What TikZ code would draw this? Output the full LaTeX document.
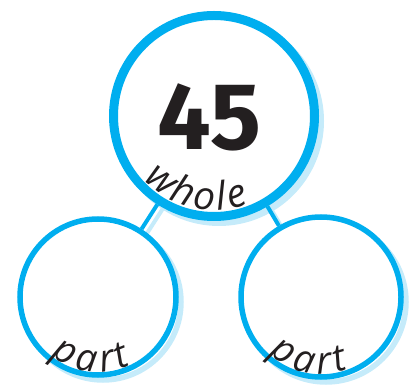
\documentclass[tikz,border=0pt]{standalone}
\usepackage{fontspec}
\setmainfont{Open Sans}
\newfontfamily\numfont{Fira Sans}
\usetikzlibrary{decorations.text}
\definecolor{ringblue}{HTML}{00AEEF}
\definecolor{shadowblue}{HTML}{C5EBFA}
\definecolor{inkdark}{HTML}{231F20}
\tikzset{
  bigring/.style={circle, draw=ringblue, fill=white, line width=9pt, minimum size=201pt, inner sep=0pt},
  smallring/.style={circle, draw=ringblue, fill=white, line width=5.5pt, inner sep=0pt},
  connector/.style={draw=ringblue, line width=4pt},
  arctext/.style={decorate, decoration={text along path, text align=center, text color=inkdark, text={#1}}}
}
\begin{document}
\begin{tikzpicture}[x=1pt,y=1pt]
\useasboundingbox (0,0) rectangle (419,387);
\coordinate (W) at (214,271);
\coordinate (L) at (98,90);
\coordinate (R) at (321,90);
% shadows
\draw[shadowblue, line width=4pt] ([shift={(5,-5)}]W) -- ([shift={(5,-5)}]L);
\draw[shadowblue, line width=4pt] ([shift={(5,-5)}]W) -- ([shift={(5,-5)}]R);
\draw[shadowblue, line width=9pt] ([shift={(5,-5)}]W) circle (100.5pt);
\draw[shadowblue, line width=5.5pt] ([shift={(5,-5)}]L) circle (78pt);
\draw[shadowblue, line width=5.5pt] ([shift={(5,-5)}]R) circle (80pt);
% rings
\node[bigring] (whole) at (W) {};
\node[smallring, minimum size=156pt] (partL) at (L) {};
\node[smallring, minimum size=160pt] (partR) at (R) {};
% connectors
\draw[connector] (whole) -- (partL);
\draw[connector] (whole) -- (partR);
% texts
\node[anchor=base, text=inkdark, font=\numfont\bfseries\fontsize{95}{95}\selectfont, inner sep=0pt] (num) at (209,237) {45};
\path[arctext={|\itshape\fontsize{39}{39}\selectfont|{w\kern3pt}{h\kern3pt}{o\kern3pt}{l\kern3pt}e}] ([shift={(197:94pt)}]W) arc[start angle=197, end angle=317, radius=94pt];
\path[arctext={|\itshape\fontsize{38}{38}\selectfont|{p\kern5pt}{a\kern5pt}{r\kern4pt}t}] ([shift={(204:75pt)}]L) arc[start angle=204, end angle=324, radius=75pt];
\path[arctext={|\itshape\fontsize{38}{38}\selectfont|{p\kern5pt}{a\kern5pt}{r\kern4pt}t}] ([shift={(199:77pt)}]R) arc[start angle=199, end angle=319, radius=77pt];
\end{tikzpicture}
\end{document}
